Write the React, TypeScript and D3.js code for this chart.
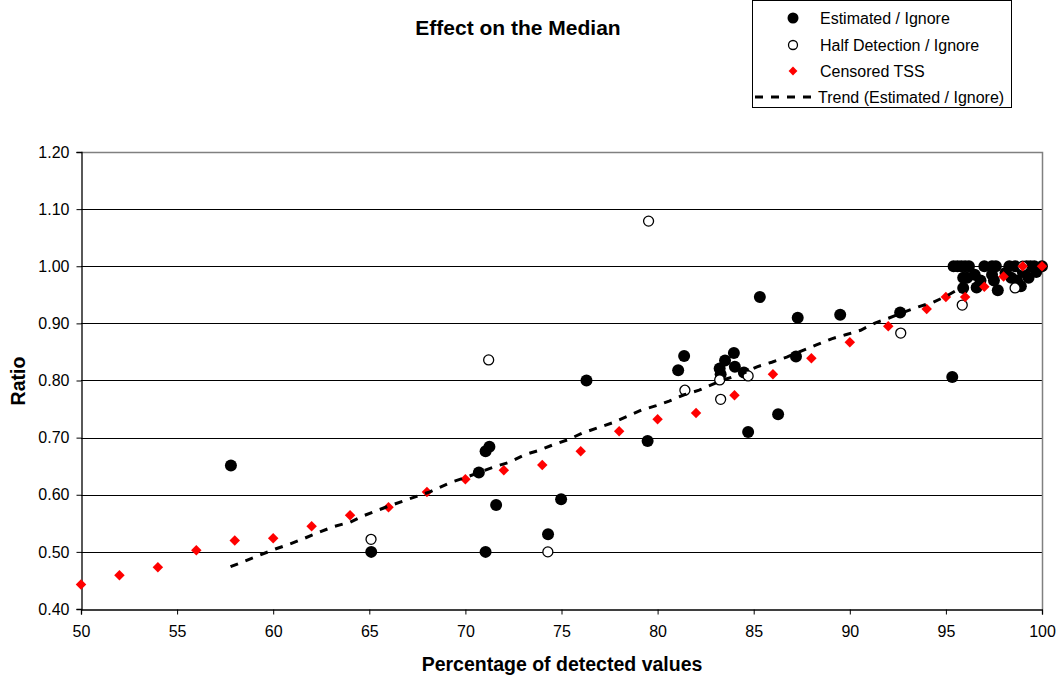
import { useEffect, useRef } from 'react';
import * as d3 from 'd3';

// Estimated / Ignore (filled circles)
const estX = [57.8, 65.1, 70.7, 71.05, 71.25, 71.6, 71.05, 74.3, 74.98, 76.3, 79.48,
  81.07, 81.38, 83.23, 83.28, 83.51, 83.97, 84.02, 84.49, 84.71, 85.32, 86.27, 87.2, 87.29, 89.5, 92.62,
  95.33, 95.4, 95.6, 95.8, 96.0, 96.2, 95.9, 96.1, 95.9, 96.5, 96.6, 96.8, 97.0, 97.4, 97.6, 97.4, 97.5,
  97.7, 98.1, 98.3, 98.4, 98.6, 98.7, 98.9, 99.0, 99.2, 99.3, 99.4, 99.6, 99.7, 100];
const estY = [0.651, 0.5, 0.639, 0.676, 0.684, 0.582, 0.5, 0.531, 0.592, 0.8, 0.694,
  0.818, 0.843, 0.821, 0.811, 0.835, 0.848, 0.824, 0.814, 0.71, 0.946, 0.741, 0.842, 0.91, 0.915, 0.919,
  0.806, 1.0, 1.0, 1.0, 1.0, 1.0, 0.98, 0.98, 0.962, 0.985, 0.963, 0.975, 1.0, 1.0, 1.0, 0.985, 0.975,
  0.958, 0.988, 1.0, 0.98, 1.0, 0.975, 0.965, 0.99, 1.0, 0.98, 1.0, 1.0, 0.99, 1.0];

// Half Detection / Ignore (open circles)
const halfX = [65.09, 71.21, 74.29, 79.53, 81.42, 83.23, 83.28, 84.71, 92.65, 95.85, 98.6, 99.0];
const halfY = [0.522, 0.836, 0.5, 1.079, 0.783, 0.801, 0.767, 0.808, 0.883, 0.932, 0.962, 1.0];

// Censored TSS (red diamonds)
const tssX = [50, 52, 54, 56, 58, 60, 62, 64, 66, 68, 70, 72, 74, 76, 78, 80, 82, 84, 86, 88, 90, 92, 94, 95, 96, 97, 98, 99, 100];
const tssY = [0.443, 0.459, 0.473, 0.503, 0.52, 0.524, 0.545, 0.564, 0.578, 0.605, 0.627, 0.643, 0.652, 0.676,
  0.711, 0.732, 0.743, 0.774, 0.811, 0.839, 0.867, 0.895, 0.925, 0.946, 0.946, 0.964, 0.982, 1.0, 1.0];

// Trend (Estimated / Ignore)
const trendX = [57.78, 60.11, 60.89, 61.57, 62.29, 63.12, 64.0, 64.68, 65.92, 67.1, 68.15, 69.19, 70.07, 71.52,
  72.3, 73.08, 73.86, 74.53, 75.31, 76.09, 76.87, 77.65, 79.15, 79.93, 80.6, 81.38, 82.16, 83.04, 83.61,
  84.49, 85.17, 85.94, 86.72, 87.5, 88.23, 89.05, 89.78, 90.56, 91.34, 92.01, 92.69, 93.57, 94.35, 95.1, 95.75];
const trendY = [0.474, 0.505, 0.514, 0.523, 0.533, 0.544, 0.552, 0.563, 0.579, 0.593, 0.605, 0.621, 0.631, 0.649,
  0.657, 0.67, 0.678, 0.687, 0.696, 0.708, 0.717, 0.726, 0.748, 0.756, 0.764, 0.775, 0.783, 0.796, 0.803,
  0.813, 0.824, 0.832, 0.841, 0.852, 0.862, 0.873, 0.88, 0.888, 0.901, 0.909, 0.918, 0.929, 0.937, 0.949, 0.962];

const xTicks = [50, 55, 60, 65, 70, 75, 80, 85, 90, 95, 100];
const yTicks = [0.4, 0.5, 0.6, 0.7, 0.8, 0.9, 1.0, 1.1, 1.2];

const legendLabels = ['Estimated / Ignore', 'Half Detection / Ignore', 'Censored TSS', 'Trend (Estimated / Ignore)'];

const FONT = 'Liberation Sans, Arial, sans-serif';

export default function App() {
  const ref = useRef<SVGSVGElement>(null);

  useEffect(() => {
    const svg = d3.select(ref.current);
    svg.selectAll('*').remove();

    const left = 81, right = 1042, top = 152, bottom = 609;
    const x = d3.scaleLinear().domain([50, 100]).range([left, right]);
    const y = d3.scaleLinear().domain([0.4, 1.2]).range([bottom, top]);

    svg.append('rect').attr('width', 1060).attr('height', 679).attr('fill', '#fff');

    // gridlines
    svg.append('g')
      .selectAll('line')
      .data(yTicks.slice(1, -1))
      .enter()
      .append('line')
      .attr('x1', left).attr('x2', right)
      .attr('y1', (d) => Math.round(y(d)) + 0.5).attr('y2', (d) => Math.round(y(d)) + 0.5)
      .attr('stroke', '#000').attr('stroke-width', 1);

    // plot border top/right grey
    svg.append('path')
      .attr('d', `M${left},${Math.round(y(1.2)) + 0.5}H${right + 0.5}V${bottom}`)
      .attr('fill', 'none').attr('stroke', '#808080').attr('stroke-width', 1.5);

    // axes
    const xAxis = svg.append('g')
      .attr('transform', `translate(0,${bottom + 0.5})`)
      .call(d3.axisBottom(x).tickValues(xTicks).tickSize(5).tickPadding(11).tickFormat(d3.format('d')));
    const yAxis = svg.append('g')
      .attr('transform', `translate(${left + 0.5},0)`)
      .call(d3.axisLeft(y).tickValues(yTicks).tickSize(5).tickPadding(7).tickFormat(d3.format('.2f')));
    [xAxis, yAxis].forEach((a) => {
      a.select('.domain').attr('stroke', '#000').attr('stroke-width', 1.3);
      a.selectAll('line').attr('stroke', '#000');
      a.selectAll('text').attr('font-family', FONT).attr('font-size', 16).attr('fill', '#000');
    });

    // estimated
    svg.append('g')
      .selectAll('circle')
      .data(estX)
      .enter()
      .append('circle')
      .attr('cx', (d) => x(d))
      .attr('cy', (d, i) => y(estY[i]))
      .attr('r', 6)
      .attr('fill', '#000');

    // half detection
    svg.append('g')
      .selectAll('circle')
      .data(halfX)
      .enter()
      .append('circle')
      .attr('cx', (d) => x(d))
      .attr('cy', (d, i) => y(halfY[i]))
      .attr('r', 5)
      .attr('fill', '#fff')
      .attr('stroke', '#000')
      .attr('stroke-width', 1.3);

    // censored TSS
    const diamond = d3.symbol().type(d3.symbolDiamond2).size(70);
    svg.append('g')
      .selectAll('path')
      .data(tssX)
      .enter()
      .append('path')
      .attr('d', diamond)
      .attr('transform', (d, i) => `translate(${x(d)},${y(tssY[i])})`)
      .attr('fill', '#ff0000');

    // trend
    const line = d3.line<number>()
      .x((d) => x(d))
      .y((d, i) => y(trendY[i]));
    svg.append('path')
      .datum(trendX)
      .attr('d', line)
      .attr('fill', 'none')
      .attr('stroke', '#000')
      .attr('stroke-width', 3)
      .attr('stroke-dasharray', '8,8');

    // titles
    svg.append('text')
      .attr('x', 518).attr('y', 35)
      .attr('text-anchor', 'middle')
      .attr('font-family', FONT).attr('font-weight', 'bold').attr('font-size', 21)
      .text('Effect on the Median');
    svg.append('text')
      .attr('x', 562).attr('y', 671)
      .attr('text-anchor', 'middle')
      .attr('font-family', FONT).attr('font-weight', 'bold').attr('font-size', 19.5)
      .text('Percentage of detected values');
    svg.append('text')
      .attr('transform', 'translate(25,381) rotate(-90)')
      .attr('text-anchor', 'middle')
      .attr('font-family', FONT).attr('font-weight', 'bold').attr('font-size', 19.5)
      .text('Ratio');

    // legend
    const lg = svg.append('g');
    lg.append('rect')
      .attr('x', 752.5).attr('y', 0.5).attr('width', 259).attr('height', 107)
      .attr('fill', '#fff').attr('stroke', '#000').attr('stroke-width', 1);
    const rows = [18, 45, 71, 97];
    lg.selectAll('text')
      .data(legendLabels)
      .enter()
      .append('text')
      .attr('x', (d, i) => (i === 3 ? 818 : 820))
      .attr('y', (d, i) => rows[i])
      .attr('dy', '0.35em')
      .attr('font-family', FONT).attr('font-size', 16)
      .text((d) => d);
    lg.append('circle').attr('cx', 793).attr('cy', rows[0]).attr('r', 5.5).attr('fill', '#000');
    lg.append('circle').attr('cx', 793).attr('cy', rows[1]).attr('r', 4.5).attr('fill', '#fff')
      .attr('stroke', '#000').attr('stroke-width', 1.3);
    lg.append('path').attr('d', diamond.size(50)).attr('transform', `translate(793,${rows[2]})`).attr('fill', '#ff0000');
    lg.append('line').attr('x1', 755).attr('x2', 818).attr('y1', rows[3]).attr('y2', rows[3])
      .attr('stroke', '#000').attr('stroke-width', 3).attr('stroke-dasharray', '8,8');
  }, []);

  return (
    <div>
      <svg ref={ref} width={1060} height={679} style={{ position: 'absolute', left: 0, top: 0 }} />
    </div>
  );
}
